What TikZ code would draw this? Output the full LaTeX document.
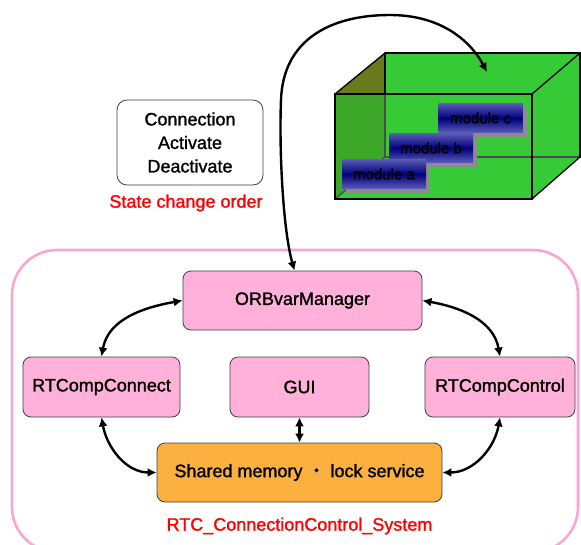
\documentclass[tikz,border=0pt]{standalone}
\usepackage{fontspec}
\setmainfont{Liberation Sans}
\newfontfamily\gothic{Liberation Sans}[FakeBold=1.3]
\newfontfamily\cjkfont{Noto Sans CJK JP}[FakeBold=1.3]
\usetikzlibrary{arrows.meta,shadows}

\definecolor{boxpink}{HTML}{FFB1DA}
\definecolor{boxorange}{HTML}{FBB040}
\definecolor{framepink}{HTML}{F9A6D2}
\definecolor{cubegreen}{HTML}{36CA36}
\definecolor{cubeside}{HTML}{3DA828}
\definecolor{cubeolive}{HTML}{687A1C}
\definecolor{modnavy}{HTML}{00007A}
\definecolor{modedge}{HTML}{5A5AB8}
\definecolor{ordered}{HTML}{FF0000}

\tikzset{
  txt/.style={font=\gothic\fontsize{18}{23.5}\selectfont},
  unit/.style={txt, draw=black!75, line width=0.8pt, rounded corners=8pt,
    fill=boxpink, inner sep=0pt, align=center},
  modbox/.style={inner sep=0pt, minimum width=84pt, minimum height=29pt,
    top color=modedge, bottom color=modedge, middle color=modnavy,
    font=\gothic\fontsize{15}{15}\selectfont,
    drop shadow={shadow xshift=4pt, shadow yshift=-4pt, fill=black!45, opacity=1}},
  link/.style={line width=2.4pt, {Latex[length=9pt,width=9pt]}-{Latex[length=9pt,width=9pt]}},
  edge3d/.style={line width=1.3pt, black},
}

\begin{document}
\begin{tikzpicture}[x=1pt,y=-1pt]
\useasboundingbox (0,0) rectangle (581,544);
\clip (0,0) rectangle (581,544);
\fill[white] (0,0) rectangle (581,544);

% --- module container (box in perspective) ---
\fill[cubegreen] (335,94) -- (385,53) -- (580,53) -- (580,157) -- (532,199) -- (335,199) -- cycle;
\fill[cubeolive] (335,94) -- (385,53) -- (385,94) -- cycle;
\fill[cubeside] (335,94) -- (385,94) -- (385,157) -- (335,199) -- cycle;
\draw[edge3d, black!70] (385,53) rectangle (580,157);
\draw[edge3d, black!70] (335,199) -- (385,157);
\draw[edge3d] (335,94) -- (385,53);
\draw[edge3d] (532,94) -- (580,53);
\draw[edge3d] (532,199) -- (580,157);
\draw[edge3d] (385,53) -- (580,53) -- (580,157);
\draw[edge3d] (385,53) -- (385,94);
\draw[edge3d] (335,94) rectangle (532,199);

\node[modbox] (modc) at (480.5,118) {module c};
\node[modbox] (modb) at (431,148) {module b};
\node[modbox] (moda) at (384,174) {module a};

% --- state change order ---
\node[unit, fill=white, minimum width=146pt, minimum height=85pt, rounded corners=10pt]
  (order) at (190,142.5) {Connection\\Activate\\Deactivate};
\node[txt, text=ordered, inner sep=0pt] (orderlabel) at (186,203) {State change order};

% --- system frame ---
\draw[framepink, line width=2.6pt, rounded corners=45pt] (12,250) rectangle (578,552);

\node[unit, minimum width=239pt, minimum height=59pt] (orb) at (302.5,300.5) {ORBvarManager};
\node[unit, minimum width=157pt, minimum height=60pt] (conn) at (101.5,387) {RTCompConnect};
\node[unit, minimum width=139pt, minimum height=60pt] (gui) at (299.5,387) {GUI};
\node[unit, minimum width=150pt, minimum height=60pt] (ctrl) at (500,387) {RTCompControl};
\node[unit, fill=boxorange, minimum width=285pt, minimum height=59pt] (shm) at (299.5,472.5)
  {Shared memory {\cjkfont ・} lock service};
\node[txt, text=ordered, inner sep=0pt] (syslabel) at (299.5,526) {RTC\_ConnectionControl\_System};

% --- connectors ---
\coordinate (cubein) at (487,72);
\draw[link] ([xshift=-8pt]orb.north) .. controls (283,230) and (279,150) .. (281,100)
  .. controls (283,40) and (330,15) .. (390,15)
  .. controls (440,15) and (470,40) .. (cubein);

\draw[link] (orb.west) to[out=190, in=80] (conn.north);
\draw[link] (orb.east) to[out=-10, in=100] (ctrl.north);
\draw[link] (conn.south) to[out=-80, in=180] (shm.west);
\draw[link] (ctrl.south) to[out=-100, in=0] (shm.east);
\draw[link] (gui.south) -- (shm.north);
\end{tikzpicture}
\end{document}
